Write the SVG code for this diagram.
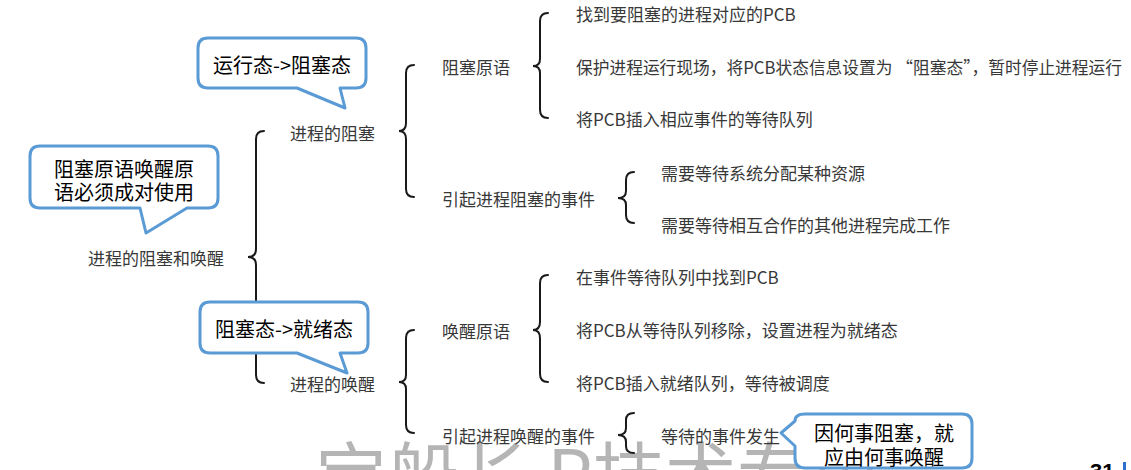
<svg xmlns="http://www.w3.org/2000/svg" width="1131" height="470" viewBox="0 0 1131 470">
<style>
.t{font-family:"Noto Sans CJK SC","Liberation Sans",sans-serif;font-size:17px;fill:#383838;dominant-baseline:central}
.c{font-family:"Noto Sans CJK SC","Liberation Sans",sans-serif;font-size:20px;fill:#000;dominant-baseline:central;text-anchor:middle}
.b{fill:none;stroke:#1a1a1a;stroke-width:2;stroke-linecap:round}
.call{fill:#fff;stroke:#5b9bd5;stroke-width:3;stroke-linejoin:round}
.wm{font-family:"Noto Sans CJK SC",sans-serif;font-size:72px;fill:#b5b5b5}
</style>
<rect width="1131" height="470" fill="#fff"/>
<text class="wm" x="315" y="502">宝船长 P技术专用</text>
<text x="1090" y="479" font-family="Liberation Sans,sans-serif" font-size="22" font-weight="bold" fill="#000">31</text>
<rect x="1123" y="462" width="3" height="8" fill="#2f6fd0"/>
<g id="connectors">
<path class="b" d="M264,131 Q256,131 256,139 L256,249 Q256,257 248,257 Q256,257 256,265 L256,375 Q256,383 264,383"/>
<path class="b" d="M414,65 Q406,65 406,73 L406,123 Q406,131 399,131 Q406,131 406,139 L406,189 Q406,197 414,197"/>
<path class="b" d="M548,13 Q540,13 540,21 L540,59 Q540,66 533,66 Q540,66 540,73 L540,110 Q540,118 548,118"/>
<path class="b" d="M634,172 Q626,172 626,180 L626,191 Q626,198 618,198 Q626,198 626,205 L626,215 Q626,223 634,223"/>
<path class="b" d="M414,330 Q406,330 406,338 L406,375 Q406,382 399,382 Q406,382 406,389 L406,425 Q406,433 414,433"/>
<path class="b" d="M548,275 Q540,275 540,283 L540,322 Q540,330 533,330 Q540,330 540,338 L540,374 Q540,382 548,382"/>
<path class="b" d="M634,413 Q626,413 626,420 L626,428 Q626,435 618,435 Q626,435 626,442 L626,446 Q626,453 634,453"/>
</g>
<g id="root"><text class="t" x="88" y="257">进程的阻塞和唤醒</text></g>
<g id="n-block"><text class="t" x="290" y="132">进程的阻塞</text></g>
<g id="n-wake"><text class="t" x="290" y="383">进程的唤醒</text></g>
<g id="n-block-prim"><text class="t" x="442" y="66">阻塞原语</text></g>
<g id="n-block-evt"><text class="t" x="442" y="198">引起进程阻塞的事件</text></g>
<g id="n-bp1"><text class="t" x="576" y="13">找到要阻塞的进程对应的PCB</text></g>
<g id="n-bp2"><text class="t" x="576" y="66" textLength="546" lengthAdjust="spacingAndGlyphs">保护进程运行现场，将PCB状态信息设置为 “阻塞态”，暂时停止进程运行</text></g>
<g id="n-bp3"><text class="t" x="576" y="118">将PCB插入相应事件的等待队列</text></g>
<g id="n-be1"><text class="t" x="661" y="172">需要等待系统分配某种资源</text></g>
<g id="n-be2"><text class="t" x="661" y="224">需要等待相互合作的其他进程完成工作</text></g>
<g id="n-wake-prim"><text class="t" x="442" y="330">唤醒原语</text></g>
<g id="n-wake-evt"><text class="t" x="442" y="435">引起进程唤醒的事件</text></g>
<g id="n-wp1"><text class="t" x="576" y="276">在事件等待队列中找到PCB</text></g>
<g id="n-wp2"><text class="t" x="576" y="329">将PCB从等待队列移除，设置进程为就绪态</text></g>
<g id="n-wp3"><text class="t" x="576" y="382">将PCB插入就绪队列，等待被调度</text></g>
<g id="n-we1"><text class="t" x="661" y="435">等待的事件发生</text></g>
<g id="callout-1">
<path class="call" d="M208,38 H356 Q366,38 366,48 V78 Q366,88 356,88 H340 L345,108 L297,88 H208 Q198,88 198,78 V48 Q198,38 208,38 Z"/>
<text class="c" x="282" y="64">运行态-&gt;阻塞态</text>
</g>
<g id="callout-2">
<path class="call" d="M40,146 H208 Q218,146 218,156 V198 Q218,208 208,208 H187 L146,233 L140,208 H40 Q30,208 30,198 V156 Q30,146 40,146 Z"/>
<text class="c" x="124" y="168">阻塞原语唤醒原</text>
<text class="c" x="124" y="191">语必须成对使用</text>
</g>
<g id="callout-3">
<path class="call" d="M210,302 H358 Q368,302 368,312 V343 Q368,353 358,353 H340 L347,373 L297,353 H210 Q200,353 200,343 V312 Q200,302 210,302 Z"/>
<text class="c" x="284" y="328">阻塞态-&gt;就绪态</text>
</g>
<g id="callout-4">
<path class="call" d="M805,414 H962 Q972,414 972,424 V458 Q972,468 962,468 H805 Q795,468 795,458 V446 L781,433 L795,421 Q795,414 805,414 Z"/>
<text class="c" x="884" y="432">因何事阻塞，就</text>
<text class="c" x="884" y="456">应由何事唤醒</text>
</g>
</svg>
